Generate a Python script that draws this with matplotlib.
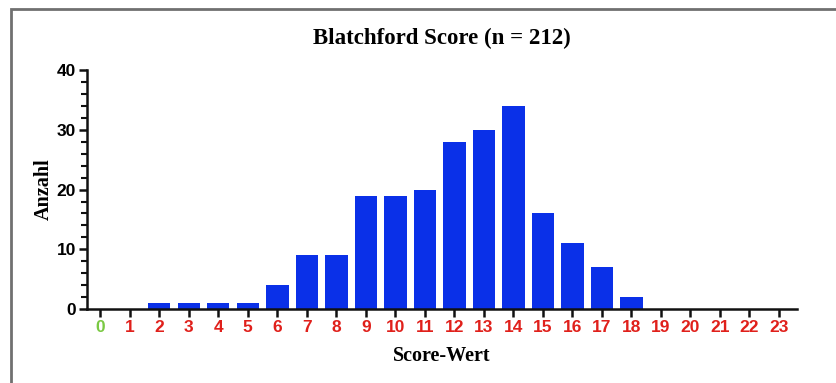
import matplotlib.pyplot as plt
import numpy as np
from matplotlib.patches import Rectangle
from matplotlib.ticker import MultipleLocator

scores = list(range(24))
counts = [0, 0, 1, 1, 1, 1, 4, 9, 9, 19, 19, 20, 28, 30, 34, 16, 11, 7, 2, 0, 0, 0, 0, 0]
label_colors = ['#7ac943'] + ['#e0201b'] * 23

fig = plt.figure(figsize=(8.36, 3.83), dpi=100)
ax = fig.add_axes([0.104, 0.193, 0.849, 0.624])

ax.bar(scores, counts, width=0.76, color='#0a30e8', edgecolor='none', zorder=2)

ax.set_xlim(-0.45, 23.6)
ax.set_ylim(0, 40)
ax.yaxis.set_major_locator(MultipleLocator(10))
ax.yaxis.set_minor_locator(MultipleLocator(2))
ax.set_xticks(scores)
ax.set_xticklabels([str(s) for s in scores])

for lbl, c in zip(ax.get_xticklabels(), label_colors):
    lbl.set_color(c)
    lbl.set_fontweight('bold')
    lbl.set_fontfamily('Liberation Sans')
    lbl.set_fontsize(12.5)
for lbl in ax.get_yticklabels():
    lbl.set_fontweight('bold')
    lbl.set_fontfamily('Liberation Sans')
    lbl.set_fontsize(12.5)

for side in ['top', 'right']:
    ax.spines[side].set_visible(False)
for side in ['left', 'bottom']:
    ax.spines[side].set_linewidth(1.8)
    ax.spines[side].set_color('#111111')

ax.tick_params(axis='both', which='major', length=6, width=1.8, color='#111111', pad=2)
ax.tick_params(axis='y', which='minor', length=4, width=1.5, color='#111111')

ax.set_title('Blatchford Score (n = 212)', fontfamily='Liberation Serif',
             fontweight='bold', fontsize=16.5, pad=19)
ax.set_xlabel('Score-Wert', fontfamily='Liberation Serif', fontweight='bold',
              fontsize=14.5, labelpad=8)
ax.set_ylabel('Anzahl', fontfamily='Liberation Serif', fontweight='bold',
              fontsize=14.5, labelpad=2)

# grey frame around the figure
fig.patches.append(Rectangle((11 / 836, -0.1), 1.2, 1 - 9 / 383 + 0.1,
                             transform=fig.transFigure, fill=False,
                             edgecolor='#707070', linewidth=2))

fig.savefig('out.png', dpi=100)
